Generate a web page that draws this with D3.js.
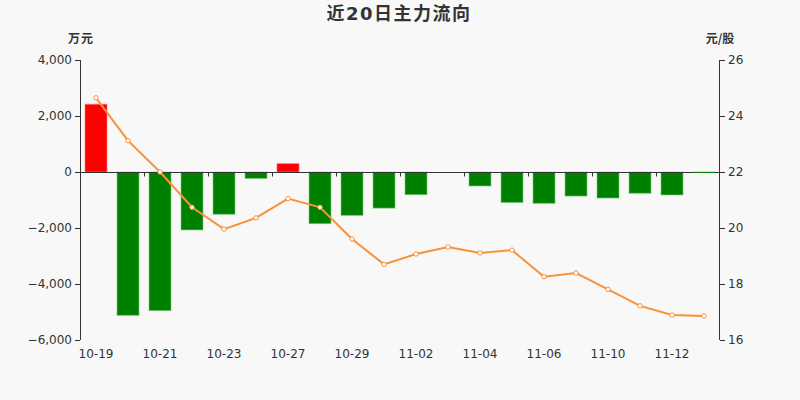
<!DOCTYPE html>
<html><head><meta charset="utf-8">
<script src="https://cdn.jsdelivr.net/npm/d3@7"></script>
<style>
html,body{margin:0;padding:0;background:#f8f8f8;}
svg{display:block;font-family:"DejaVu Sans","Noto Sans CJK SC",sans-serif;}
</style></head><body>
<svg id="c" width="800" height="400"></svg>
<script>
const dates = ["10-19","10-20","10-21","10-22","10-23","10-26","10-27","10-28","10-29","10-30","11-02","11-03","11-04","11-05","11-06","11-09","11-10","11-11","11-12","11-13"];
const flows = [2420,-5120,-4950,-2070,-1510,-230,300,-1845,-1550,-1290,-810,0,-500,-1090,-1120,-860,-930,-760,-820,-15];
const prices = [24.65,23.12,22.0,20.74,19.96,20.36,21.05,20.74,19.61,18.70,19.07,19.32,19.11,19.21,18.26,18.39,17.81,17.22,16.89,16.86];
const leftTicks = [4000,2000,0,-2000,-4000,-6000];
const rightTicks = [26,24,22,20,18,16];
const shownDates = ["10-19","10-21","10-23","10-27","10-29","11-02","11-04","11-06","11-10","11-12"];

const svg = d3.select("#c");
const L = 80, R = 720, T = 60, B = 340;
const x = d3.scaleBand().domain(dates).range([L, R]).paddingInner(0.3125).paddingOuter(0.15625);
const xc = d3.scaleBand().domain(dates).range([L, R]);
const yL = d3.scaleLinear().domain([-6000, 4000]).range([B, T]);
const yR = d3.scaleLinear().domain([16, 26]).range([B, T]);
const txt = "#333";

svg.append("text").attr("x", 399).attr("y", 20).attr("text-anchor", "middle")
  .attr("font-size", 18).attr("font-weight", "bold").attr("fill", txt)
  .attr("letter-spacing", 1.5)
  .style("font-family", "'DejaVu Sans','Noto Sans CJK SC',sans-serif").text("近20日主力流向");
svg.append("text").attr("x", 81).attr("y", 43).attr("text-anchor", "middle")
  .attr("font-size", 12).attr("font-weight", "bold").attr("fill", txt).attr("letter-spacing", 1)
  .style("font-family", "'Noto Sans CJK SC',sans-serif").text("万元");
svg.append("text").attr("x", 720).attr("y", 43).attr("text-anchor", "middle")
  .attr("font-size", 12).attr("font-weight", "bold").attr("fill", txt)
  .style("font-family", "'Noto Sans CJK SC',sans-serif").text("元/股");

// bars
svg.append("g").selectAll("rect").data(flows).join("rect")
  .attr("x", (d, i) => x(dates[i]))
  .attr("width", x.bandwidth())
  .attr("y", d => yL(Math.max(0, d)))
  .attr("height", d => Math.abs(yL(d) - yL(0)))
  .attr("fill", d => d >= 0 ? "#ff0000" : "#008000")
  .attr("stroke", d => d >= 0 ? "rgba(255,120,120,0.6)" : "rgba(120,200,120,0.6)")
  .attr("stroke-width", 1);

// left axis
const gl = svg.append("g").attr("transform", `translate(${L},0)`)
  .call(d3.axisLeft(yL).tickValues(leftTicks).tickSize(5).tickPadding(3).tickFormat(d3.format(",")));
// right axis
const gr = svg.append("g").attr("transform", `translate(${R},0)`)
  .call(d3.axisRight(yR).tickValues(rightTicks).tickSize(5).tickPadding(3));
[gl, gr].forEach(g => {
  g.select(".domain").attr("stroke", txt).attr("d", g === gl ? `M0.5,${T}V${B}` : `M-0.5,${T}V${B}`);
  g.selectAll(".tick line").attr("stroke", txt);
  g.selectAll(".tick text").attr("fill", txt).attr("font-size", 12).style("font-family", "'DejaVu Sans',sans-serif");
});

// x axis at zero
const zy = Math.round(yL(0)) + 0.5;
const gx = svg.append("g");
gx.append("line").attr("x1", L).attr("x2", R).attr("y1", zy).attr("y2", zy).attr("stroke", txt);
gx.selectAll("line.t").data(dates.filter((d, i) => i % 2 === 0 && i > 0)).join("line").attr("class", "t")
  .attr("x1", d => Math.round(xc(d)) + 0.5).attr("x2", d => Math.round(xc(d)) + 0.5)
  .attr("y1", zy).attr("y2", zy + 4).attr("stroke", txt);
// tiny bars drawn as a line
svg.append("g").selectAll("line").data(flows.filter(d => Math.abs(d) < 30 && d !== 0)).join("line")
  .attr("x1", (d) => x(dates[flows.indexOf(d)])).attr("x2", d => x(dates[flows.indexOf(d)]) + x.bandwidth())
  .attr("y1", zy).attr("y2", zy).attr("stroke", "#008000");

svg.append("g").selectAll("text").data(shownDates).join("text")
  .attr("x", d => xc(d) + xc.bandwidth() / 2).attr("y", 358)
  .attr("text-anchor", "middle").attr("font-size", 12).attr("fill", txt)
  .style("font-family", "'DejaVu Sans',sans-serif").text(d => d);

// price line
const line = d3.line().x((d, i) => xc(dates[i]) + xc.bandwidth() / 2).y(d => yR(d));
svg.append("path").datum(prices).attr("d", line).attr("fill", "none")
  .attr("stroke", "#f7923a").attr("stroke-width", 2);
svg.append("g").selectAll("circle").data(prices).join("circle")
  .attr("cx", (d, i) => xc(dates[i]) + xc.bandwidth() / 2).attr("cy", d => yR(d))
  .attr("r", 2.2).attr("fill", "#fff").attr("stroke", "#f7923a").attr("stroke-width", 1);
</script>
</body></html>
